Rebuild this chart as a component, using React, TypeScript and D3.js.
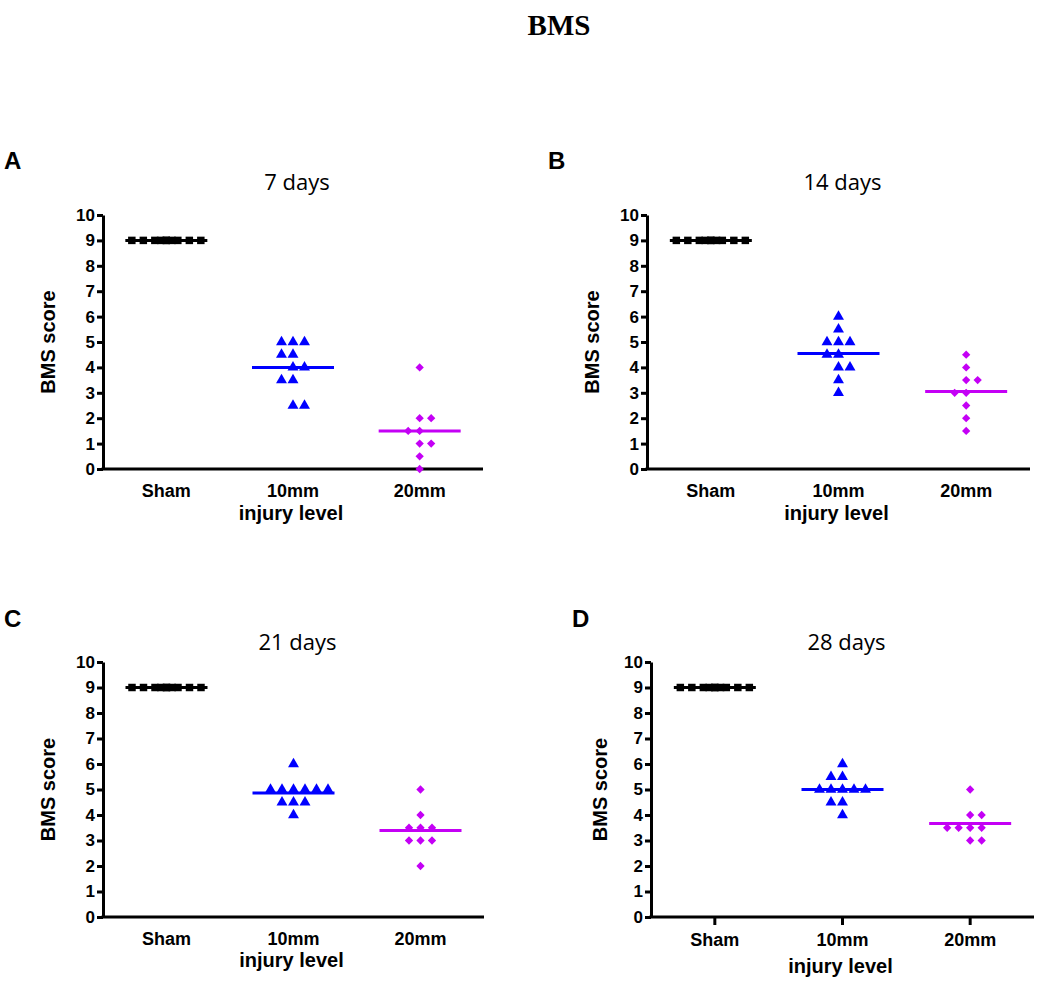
import React, { useEffect, useRef } from "react";
import * as d3 from "d3";

const categories = ["Sham", "10mm", "20mm"];
const panelLetters = ["A", "B", "C", "D"];
const panelTitles = ["7 days", "14 days", "21 days", "28 days"];
const yTickValues = [0, 1, 2, 3, 4, 5, 6, 7, 8, 9, 10];

// BMS scores
const sham7 = [9, 9, 9, 9, 9, 9, 9, 9, 9, 9];
const mm10_7 = [5, 5, 5, 4.5, 4.5, 4, 4, 3.5, 3.5, 2.5, 2.5];
const mm20_7 = [4, 2, 2, 1.5, 1.5, 1, 1, 0.5, 0];

const sham14 = [9, 9, 9, 9, 9, 9, 9, 9, 9, 9];
const mm10_14 = [6, 5.5, 5, 5, 5, 4.5, 4.5, 4, 4, 3.5, 3];
const mm20_14 = [4.5, 4, 3.5, 3.5, 3, 3, 2.5, 2, 1.5];

const sham21 = [9, 9, 9, 9, 9, 9, 9, 9, 9, 9];
const mm10_21 = [6, 5, 5, 5, 5, 5, 5, 4.5, 4.5, 4.5, 4];
const mm20_21 = [5, 4, 3.5, 3.5, 3.5, 3, 3, 3, 2];

const sham28 = [9, 9, 9, 9, 9, 9, 9, 9, 9, 9];
const mm10_28 = [6, 5.5, 5.5, 5, 5, 5, 5, 5, 4.5, 4.5, 4];
const mm20_28 = [5, 4, 4, 3.5, 3.5, 3.5, 3.5, 3, 3];

const groupColors = ["#000000", "#0000FF", "#C400F5"];
const groupSymbols = [d3.symbolSquare, d3.symbolTriangle, d3.symbolDiamond2];
const symbolSizes = [56, 52, 44];

const panels = [
  { groups: [sham7, mm10_7, mm20_7], x0: 103, x1: 483, top: 215, bottom: 469,
    letterX: 4, letterY: 169, titleY: 190, yLabelX: 48, catY: 497, axisTitleY: 520, xTicks: false },
  { groups: [sham14, mm10_14, mm20_14], x0: 647, x1: 1030, top: 215, bottom: 469,
    letterX: 548, letterY: 169, titleY: 190, yLabelX: 592, catY: 497, axisTitleY: 520, xTicks: false },
  { groups: [sham21, mm10_21, mm20_21], x0: 103, x1: 484, top: 662, bottom: 917,
    letterX: 4, letterY: 627, titleY: 650, yLabelX: 48, catY: 943, axisTitleY: 967, xTicks: false },
  { groups: [sham28, mm10_28, mm20_28], x0: 651, x1: 1034, top: 662, bottom: 917,
    letterX: 572, letterY: 627, titleY: 650, yLabelX: 600, catY: 943, axisTitleY: 973, xTicks: true },
];

const STEP = 11.5;

// spread equal values sideways like a column scatter
function spreadColumn(values: number[]) {
  const distinct = Array.from(new Set(values)).sort((a, b) => a - b);
  const out: { v: number; slot: number }[] = [];
  distinct.forEach((v, i) => {
    const k = values.filter(d => d === v).length;
    let slots: number[] = [];
    if (k > 7) {
      slots = [-3, -2, -1, 0, 1, 2, 3];
      const extra = [-0.5, 0.5, 0, -1.5, 1.5, -2.5, 2.5];
      slots = slots.concat(extra.slice(0, k - 7));
    } else if (k % 2 === 1) {
      slots = d3.range(k).map(j => j - (k - 1) / 2);
    } else {
      const start = i % 2 === 0 ? -(k / 2 - 1) : -k / 2;
      slots = d3.range(k).map(j => start + j);
    }
    slots.forEach(s => out.push({ v, slot: s }));
  });
  return out;
}

const sans = "'Liberation Sans', Arial, sans-serif";

export default function App() {
  const ref = useRef<SVGSVGElement>(null);

  useEffect(() => {
    const svg = d3.select(ref.current);
    svg.selectAll("*").remove();

    svg.append("text")
      .attr("x", 559)
      .attr("y", 35)
      .attr("text-anchor", "middle")
      .attr("font-family", "'Liberation Serif', 'Times New Roman', serif")
      .attr("font-weight", "bold")
      .attr("font-size", 29)
      .text("BMS");

    panels.forEach((p, pi) => {
      const g = svg.append("g");

      const x = d3.scaleBand().domain(categories).range([p.x0, p.x1]).padding(0);
      const y = d3.scaleLinear().domain([0, 10]).range([p.bottom, p.top]);

      g.append("text")
        .attr("x", p.letterX)
        .attr("y", p.letterY)
        .attr("font-family", sans)
        .attr("font-weight", "bold")
        .attr("font-size", 24)
        .text(panelLetters[pi]);

      g.append("text")
        .attr("x", (p.x0 + p.x1) / 2 + 4)
        .attr("y", p.titleY)
        .attr("text-anchor", "middle")
        .attr("font-family", "'Open Sans', sans-serif")
        .attr("font-size", 22)
        .text(panelTitles[pi]);

      // y axis
      const yAxis = g.append("g")
        .attr("transform", `translate(${p.x0},0)`)
        .call(d3.axisLeft(y).tickValues(yTickValues).tickSize(6).tickSizeOuter(0).tickPadding(2));
      yAxis.select(".domain").attr("stroke-width", 3).attr("stroke", "#000");
      yAxis.selectAll(".tick line").attr("stroke-width", 3).attr("stroke", "#000");
      yAxis.selectAll(".tick text")
        .attr("font-family", sans)
        .attr("font-weight", "bold")
        .attr("font-size", 17)
        .attr("fill", "#000");

      // x axis
      const xAxis = g.append("g")
        .attr("transform", `translate(0,${p.bottom})`)
        .call(d3.axisBottom(x).tickSize(p.xTicks ? 8 : 0).tickSizeOuter(0).tickPadding(p.xTicks ? 8 : 15));
      xAxis.select(".domain")
        .attr("d", `M${p.x0 - 1.5},0H${p.x1}`)
        .attr("stroke-width", 3)
        .attr("stroke", "#000");
      xAxis.selectAll(".tick line").attr("stroke-width", 3).attr("stroke", "#000");
      xAxis.selectAll(".tick text")
        .attr("font-family", sans)
        .attr("font-weight", "bold")
        .attr("font-size", 18)
        .attr("fill", "#000");

      g.append("text")
        .attr("x", (p.x0 + p.x1) / 2 - 2)
        .attr("y", p.axisTitleY)
        .attr("text-anchor", "middle")
        .attr("font-family", sans)
        .attr("font-weight", "bold")
        .attr("font-size", 20)
        .text("injury level");

      g.append("text")
        .attr("transform", `translate(${p.yLabelX},${(p.top + p.bottom) / 2}) rotate(-90)`)
        .attr("text-anchor", "middle")
        .attr("dominant-baseline", "central")
        .attr("font-family", sans)
        .attr("font-weight", "bold")
        .attr("font-size", 20)
        .text("BMS score");

      p.groups.forEach((vals, gi) => {
        const cx = (x(categories[gi]) as number) + x.bandwidth() / 2;
        const color = groupColors[gi];
        const mean = d3.mean(vals) as number;

        g.append("line")
          .attr("x1", cx - 41)
          .attr("x2", cx + 41)
          .attr("y1", y(mean))
          .attr("y2", y(mean))
          .attr("stroke", color)
          .attr("stroke-width", 3);

        const sym = d3.symbol().type(groupSymbols[gi]).size(symbolSizes[gi]);
        g.selectAll(null)
          .data(spreadColumn(vals))
          .join("path")
          .attr("d", sym() as string)
          .attr("transform", d => `translate(${cx + d.slot * STEP},${y(d.v)})`)
          .attr("fill", color);
      });
    });
  }, []);

  return (
    <svg
      ref={ref}
      width={1050}
      height={990}
      style={{ position: "absolute", left: 0, top: 0, background: "#fff" }}
    />
  );
}
